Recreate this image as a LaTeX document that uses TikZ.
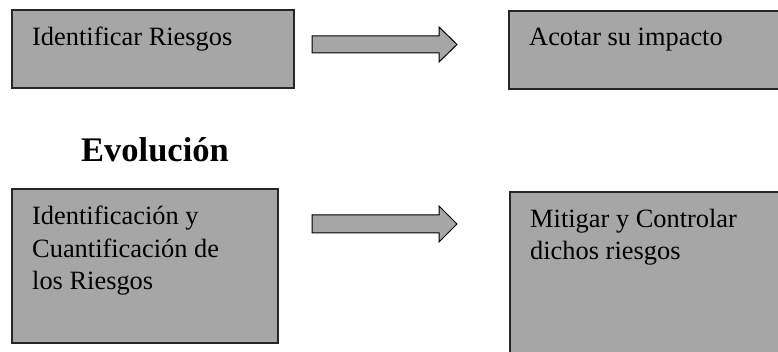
\documentclass[tikz,border=0pt]{standalone}
\usepackage{fontspec}
\setmainfont{Liberation Serif}
\begin{document}
\begin{tikzpicture}[x=1pt,y=-1pt,
  box/.style={draw=black!85,line width=1.3pt,fill=boxgray},
  label/.style={anchor=base west,inner sep=0pt,font=\fontsize{26.4}{32.5}\selectfont,align=left},
  heading/.style={anchor=base west,inner sep=0pt,font=\fontsize{34.5}{40}\selectfont\bfseries},
  blockarrow/.style={draw=black,line width=1pt,fill=boxgray,line join=miter}]
\definecolor{boxgray}{RGB}{166,166,166}
\useasboundingbox (0,0) rectangle (778,352);
\clip (0,0) rectangle (778,352);

% upper row
\draw[box] (12,10) rectangle (294,88);
\node[label] (t1) at (32,46) {Identificar Riesgos};
\draw[box] (509,11) rectangle (790,89);
\node[label] (t2) at (529,46) {Acotar su impacto};
\draw[blockarrow] (312,36) -- (439,36) -- (439,27) -- (457,44.5) -- (439,62)
  -- (439,53) -- (312,53) -- cycle;

% heading
\node[heading] (title) at (81,162) {Evolución};

% lower row (multi-line labels sit on the baseline of their last line)
\draw[box] (12,189) rectangle (278,343);
\node[label] (t3) at (32,290) {Identificación y\\Cuantificación de\\los Riesgos};
\draw[box] (510,192) rectangle (790,365);
\node[label] (t4) at (530,260) {Mitigar y Controlar\\dichos riesgos};
\draw[blockarrow] (312,215) -- (439,215) -- (439,206) -- (457,224) -- (439,242)
  -- (439,233) -- (312,233) -- cycle;
\end{tikzpicture}
\end{document}
